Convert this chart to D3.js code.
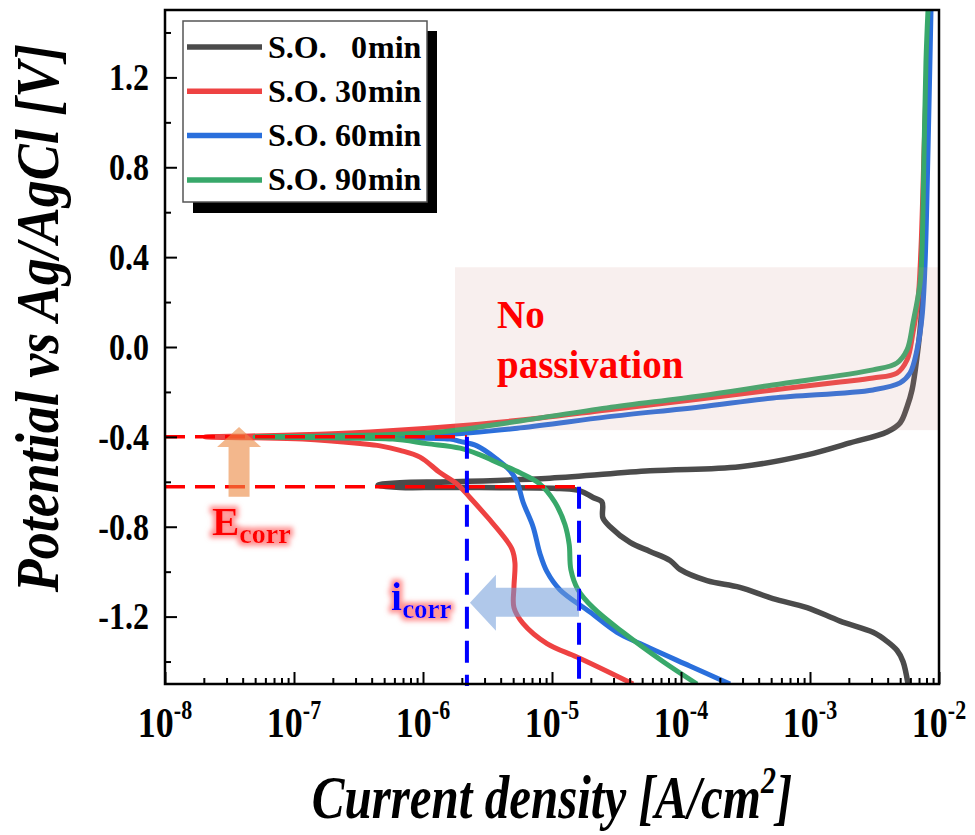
<!DOCTYPE html>
<html>
<head>
<meta charset="utf-8">
<script src="https://cdn.jsdelivr.net/npm/d3@7"></script>
<style>
  html, body { margin: 0; padding: 0; background: #fff; }
  svg { display: block; font-family: "Liberation Serif", "Times New Roman", serif; }
</style>
</head>
<body>
<svg id="chart" width="975" height="835"></svg>
<script>
// Potentiodynamic polarization curves: [current density (A/cm2), potential (V vs Ag/AgCl)]
// Each curve runs from the cathodic end, through E_corr, and up the anodic branch.
const so0min = [
  [5.75e-3, -1.50], [5.26e-3, -1.40], [4.72e-3, -1.35], [3.95e-3, -1.31], [3.08e-3, -1.27],
  [1.71e-3, -1.22], [9.48e-4, -1.16], [5.16e-4, -1.12], [2.86e-4, -1.07], [1.59e-4, -1.04],
  [9.82e-5, -0.99], [8.22e-5, -0.95], [5.75e-5, -0.91], [4.03e-5, -0.87], [2.82e-5, -0.80],
  [2.48e-5, -0.76], [2.44e-5, -0.69], [2.08e-5, -0.67], [1.65e-5, -0.64], [1.15e-5, -0.63],
  [3.95e-6, -0.626], [1.36e-6, -0.625], [6.64e-7, -0.625], [4.48e-7, -0.615],
  [6.64e-7, -0.604], [1.62e-6, -0.600], [9.64e-6, -0.584], [5.75e-5, -0.551], [2.86e-4, -0.533],
  [9.48e-4, -0.480], [2.04e-3, -0.427], [3.95e-3, -0.378], [4.99e-3, -0.338], [5.65e-3, -0.267],
  [6.18e-3, -0.191], [6.75e-3, -0.044], [7.24e-3, 0.120], [7.66e-3, 0.431], [7.93e-3, 0.876],
  [8.22e-3, 1.276], [8.51e-3, 1.50]
];
const so30min = [
  [4.25e-5, -1.50], [2.82e-5, -1.45], [1.56e-5, -1.38], [9.14e-6, -1.32], [5.96e-6, -1.23],
  [5.07e-6, -1.16], [5.07e-6, -1.07], [5.16e-6, -0.96], [4.90e-6, -0.90], [4.17e-6, -0.84],
  [3.30e-6, -0.77], [2.31e-6, -0.67], [1.84e-6, -0.61], [1.36e-6, -0.56], [9.48e-7, -0.49],
  [6.64e-7, -0.46], [4.65e-7, -0.44], [3.25e-7, -0.43], [1.17e-7, -0.41], [4.56e-8, -0.404],
  [2.04e-8, -0.400],
  [4.56e-8, -0.396], [1.11e-7, -0.391], [3.88e-7, -0.378], [2.31e-6, -0.347], [8.07e-6, -0.316],
  [2.67e-5, -0.280], [1.40e-4, -0.231], [5.16e-4, -0.191], [1.71e-3, -0.156], [3.08e-3, -0.138],
  [4.72e-3, -0.116], [5.65e-3, -0.058], [6.28e-3, 0.062], [6.87e-3, 0.209], [7.24e-3, 0.431],
  [7.66e-3, 0.876], [8.07e-3, 1.276], [8.36e-3, 1.50]
];
const so60min = [
  [2.40e-4, -1.50], [1.17e-4, -1.42], [4.81e-5, -1.32], [3.19e-5, -1.27], [1.97e-5, -1.18],
  [1.15e-5, -1.08], [9.14e-6, -1.00], [8.07e-6, -0.92], [7.13e-6, -0.80], [5.96e-6, -0.69],
  [5.36e-6, -0.60], [4.72e-6, -0.55], [3.75e-6, -0.50], [2.62e-6, -0.44], [1.94e-6, -0.42],
  [1.62e-6, -0.41], [6.64e-7, -0.404], [2.28e-7, -0.404], [9.31e-8, -0.400],
  [2.28e-7, -0.396], [1.36e-6, -0.391], [5.65e-6, -0.360], [2.67e-5, -0.311], [1.40e-4, -0.267],
  [5.16e-4, -0.227], [3.08e-3, -0.191], [4.99e-3, -0.160], [5.96e-3, -0.116], [6.75e-3, -0.013],
  [7.38e-3, 0.133], [7.78e-3, 0.356], [8.22e-3, 0.876], [8.51e-3, 1.276], [8.67e-3, 1.50]
];
const so90min = [
  [1.33e-4, -1.50], [7.24e-5, -1.40], [3.55e-5, -1.27], [2.08e-5, -1.16], [1.59e-5, -1.08],
  [1.40e-5, -0.99], [1.36e-5, -0.88], [1.26e-5, -0.79], [1.05e-5, -0.69], [8.07e-6, -0.61],
  [5.65e-6, -0.56], [3.95e-6, -0.52], [2.77e-6, -0.48], [1.94e-6, -0.45], [1.07e-6, -0.43],
  [5.85e-7, -0.41], [1.90e-7, -0.404], [4.99e-8, -0.400],
  [1.90e-7, -0.396], [1.36e-6, -0.378], [5.65e-6, -0.329], [2.67e-5, -0.271], [1.40e-4, -0.218],
  [5.16e-4, -0.169], [3.08e-3, -0.102], [4.72e-3, -0.071], [5.65e-3, -0.013], [6.28e-3, 0.107],
  [7.13e-3, 0.284], [7.38e-3, 0.431], [7.66e-3, 0.876], [7.93e-3, 1.276], [8.22e-3, 1.50]
];

const seriesData   = [so0min, so30min, so60min, so90min];
const seriesNumber = ["0", "30", "60", "90"];
const seriesColors = ["#4b4b4b", "#ee4242", "#2a6fdc", "#38a86a"];
const seriesWidths = [5.5, 5, 5, 5];

const xTickPowers = [-8, -7, -6, -5, -4, -3, -2];
const yTickValues = [-1.2, -0.8, -0.4, 0.0, 0.4, 0.8, 1.2];
const yMinorValues = [-1.4, -1.0, -0.6, -0.2, 0.2, 0.6, 1.0, 1.4];

// Corrosion potentials (red dashed) and corrosion current densities (blue dashed)
const ecorrValues = [-0.40, -0.622];
const icorrValues = [2.19e-6, 1.62e-5];
// Shaded "No passivation" window: current from, potential range
const bandCurrent = [1.77e-6, 1e-2];
const bandPotential = [-0.37, 0.355];

const svg = d3.select("#chart");
const L = 165, R = 939, T = 10, B = 684;
const STRETCH = 1.2;   // tall serif lettering used for axis text

const x = d3.scaleLog().domain([1e-8, 1e-2]).range([L, R]);
const y = d3.scaleLinear().domain([-1.5, 1.5]).range([B, T]);

// Glow used behind the E_corr / i_corr labels
const defs = svg.append("defs");
const glow = defs.append("filter").attr("id", "glow")
  .attr("x", "-40%").attr("y", "-40%").attr("width", "180%").attr("height", "180%");
glow.append("feMorphology").attr("in", "SourceAlpha").attr("operator", "dilate").attr("radius", 2.5).attr("result", "d");
glow.append("feGaussianBlur").attr("in", "d").attr("stdDeviation", 2.4).attr("result", "b");
glow.append("feFlood").attr("flood-color", "#ff8080").attr("flood-opacity", 0.85);
glow.append("feComposite").attr("in2", "b").attr("operator", "in").attr("result", "g");
const merge = glow.append("feMerge");
merge.append("feMergeNode").attr("in", "g");
merge.append("feMergeNode").attr("in", "SourceGraphic");

defs.append("clipPath").attr("id", "plotClip")
  .append("rect").attr("x", L).attr("y", T).attr("width", R - L).attr("height", B - T);

// Curves
const line = d3.line()
  .x(d => x(d[0]))
  .y(d => y(d[1]))
  .curve(d3.curveCatmullRom.alpha(0.5));

const curves = svg.append("g").attr("clip-path", "url(#plotClip)");
seriesData.forEach((data, k) => {
  curves.append("path")
    .datum(data)
    .attr("d", line)
    .attr("fill", "none")
    .attr("stroke", seriesColors[k])
    .attr("stroke-width", seriesWidths[k])
    .attr("stroke-linejoin", "round");
});

// Translucent band over the anodic region
svg.append("rect")
  .attr("x", x(bandCurrent[0]))
  .attr("y", y(bandPotential[1]))
  .attr("width", x(bandCurrent[1]) - x(bandCurrent[0]))
  .attr("height", y(bandPotential[0]) - y(bandPotential[1]))
  .attr("fill", "rgb(208,148,142)")
  .attr("fill-opacity", 0.15);

svg.append("text")
  .attr("x", x(bandCurrent[0]) + 42).attr("y", y(bandPotential[1]) + 61)
  .attr("fill", "#ff0000").attr("font-weight", "bold").attr("font-size", 39)
  .text("No");
svg.append("text")
  .attr("x", x(bandCurrent[0]) + 42).attr("y", y(bandPotential[1]) + 111)
  .attr("fill", "#ff0000").attr("font-weight", "bold").attr("font-size", 39)
  .text("passivation");

// E_corr guides
ecorrValues.forEach((e, k) => {
  svg.append("line")
    .attr("x1", L).attr("x2", x(icorrValues[k]))
    .attr("y1", y(e)).attr("y2", y(e))
    .attr("stroke", "#ff0000").attr("stroke-width", 3.5)
    .attr("stroke-dasharray", "20,10");
});
// i_corr guides
icorrValues.forEach((c, k) => {
  svg.append("line")
    .attr("x1", x(c)).attr("x2", x(c))
    .attr("y1", y(ecorrValues[k])).attr("y2", B + 2)
    .attr("stroke", "#0000ff").attr("stroke-width", 4)
    .attr("stroke-dasharray", "22,12");
});

// Arrow: E_corr shifts up
const upX = x(3.75e-8), upTop = y(-0.356), upBot = y(-0.667);
svg.append("path")
  .attr("d", `M${upX},${upTop} L${upX + 22},${upTop + 20} L${upX + 10.5},${upTop + 20} L${upX + 10.5},${upBot}
              L${upX - 10.5},${upBot} L${upX - 10.5},${upTop + 20} L${upX - 22},${upTop + 20} Z`)
  .attr("fill", "#ec8a45").attr("fill-opacity", 0.62);

// Arrow: i_corr shifts left
const lfY = y(-1.138), lfTip = x(icorrValues[0]) + 3, lfTail = x(icorrValues[1]);
svg.append("path")
  .attr("d", `M${lfTip},${lfY} L${lfTip + 26},${lfY - 28} L${lfTip + 26},${lfY - 15} L${lfTail},${lfY - 15}
              L${lfTail},${lfY + 14} L${lfTip + 26},${lfY + 14} L${lfTip + 26},${lfY + 28} Z`)
  .attr("fill", "#6f9bd8").attr("fill-opacity", 0.55);

// Labels
const ecorrLabel = svg.append("text").attr("x", 212).attr("y", 535)
  .attr("fill", "#ff0000").attr("font-weight", "bold").attr("filter", "url(#glow)");
ecorrLabel.append("tspan").attr("font-size", 41).text("E");
ecorrLabel.append("tspan").attr("font-size", 28).attr("dy", 8).text("corr");

const icorrLabel = svg.append("text").attr("x", 391).attr("y", 610)
  .attr("fill", "#0000ff").attr("font-weight", "bold").attr("filter", "url(#glow)");
icorrLabel.append("tspan").attr("font-size", 40).text("i");
icorrLabel.append("tspan").attr("font-size", 27).attr("dy", 8).text("corr");

// Axes (ticks point inward)
const majorX = xTickPowers.map(p => Math.pow(10, p));
const minorX = [];
xTickPowers.slice(0, -1).forEach(p => { for (let m = 2; m <= 9; m++) minorX.push(m * Math.pow(10, p)); });

svg.append("g").attr("transform", `translate(0,${B})`)
  .call(d3.axisBottom(x).tickValues(majorX).tickSizeInner(-12).tickSizeOuter(0).tickFormat(""))
  .call(g => g.select(".domain").remove())
  .call(g => g.selectAll("line").attr("stroke", "#000").attr("stroke-width", 2));
svg.append("g").attr("transform", `translate(0,${B})`)
  .call(d3.axisBottom(x).tickValues(minorX).tickSizeInner(-6).tickSizeOuter(0).tickFormat(""))
  .call(g => g.select(".domain").remove())
  .call(g => g.selectAll("line").attr("stroke", "#000").attr("stroke-width", 2));

svg.append("g").attr("transform", `translate(${L},0)`)
  .call(d3.axisLeft(y).tickValues(yTickValues).tickSizeInner(-12).tickSizeOuter(0).tickPadding(16)
    .tickFormat(v => v.toFixed(1)))
  .call(g => g.select(".domain").remove())
  .call(g => g.selectAll("line").attr("stroke", "#000").attr("stroke-width", 2))
  .call(g => g.selectAll("text")
    .attr("font-family", "Liberation Serif, Times New Roman, serif")
    .attr("font-size", 32).attr("font-weight", "bold").attr("fill", "#000")
    .attr("transform", `scale(1,${STRETCH})`));
svg.append("g").attr("transform", `translate(${L},0)`)
  .call(d3.axisLeft(y).tickValues(yMinorValues).tickSizeInner(-6).tickSizeOuter(0).tickFormat(""))
  .call(g => g.select(".domain").remove())
  .call(g => g.selectAll("line").attr("stroke", "#000").attr("stroke-width", 2));

// Decade labels with superscript exponents
xTickPowers.forEach(p => {
  const t = svg.append("text")
    .attr("transform", `translate(${x(Math.pow(10, p))},737) scale(1,${STRETCH})`)
    .attr("text-anchor", "middle").attr("font-weight", "bold").attr("fill", "#000");
  t.append("tspan").attr("font-size", 36).text("10");
  t.append("tspan").attr("font-size", 22).attr("dy", -15).text(String(p));
});

// Plot frame
svg.append("rect").attr("x", L).attr("y", T).attr("width", R - L).attr("height", B - T)
  .attr("fill", "none").attr("stroke", "#000").attr("stroke-width", 2.5);

// Axis titles
const xTitle = svg.append("text")
  .attr("transform", `translate(${(L + R) / 2},818) scale(1,1.25)`)
  .attr("text-anchor", "middle").attr("font-size", 49)
  .attr("font-weight", "bold").attr("font-style", "italic").attr("fill", "#000");
xTitle.append("tspan").text("Current density [A/cm");
xTitle.append("tspan").attr("font-size", 30).attr("dy", -20).text("2");
xTitle.append("tspan").attr("dy", 20).text("]");

svg.append("text")
  .attr("transform", `translate(58,${318}) rotate(-90) scale(1,1.15)`)
  .attr("text-anchor", "middle").attr("font-size", 54)
  .attr("font-weight", "bold").attr("font-style", "italic").attr("fill", "#000")
  .text("Potential vs Ag/AgCl [V]");

// Legend with drop shadow
const lg = svg.append("g");
lg.append("rect").attr("x", 193).attr("y", 31).attr("width", 244).attr("height", 182).attr("fill", "#000");
lg.append("rect").attr("x", 183).attr("y", 21).attr("width", 244).attr("height", 181)
  .attr("fill", "#fff").attr("stroke", "#555").attr("stroke-width", 1.5);
seriesNumber.forEach((n, k) => {
  const ly = 47 + k * 44.3;
  lg.append("line").attr("x1", 187).attr("x2", 262).attr("y1", ly).attr("y2", ly)
    .attr("stroke", seriesColors[k]).attr("stroke-width", 5.5);
  lg.append("text").attr("x", 268).attr("y", ly + 10.5)
    .attr("font-size", 32).attr("font-weight", "bold").attr("fill", "#000").text("S.O.");
  lg.append("text").attr("x", 367).attr("y", ly + 10.5).attr("text-anchor", "end")
    .attr("font-size", 32).attr("font-weight", "bold").attr("fill", "#000").text(n);
  lg.append("text").attr("x", 368).attr("y", ly + 10.5)
    .attr("font-size", 32).attr("font-weight", "bold").attr("fill", "#000").text("min");
});
</script>
</body>
</html>
